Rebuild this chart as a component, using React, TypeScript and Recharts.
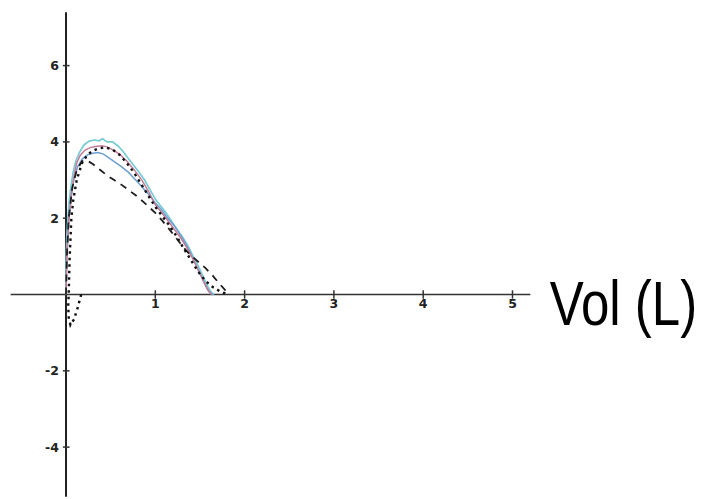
import React from "react";
import { LineChart, Line, XAxis, YAxis, ReferenceLine, ReferenceDot } from "recharts";

type P = { v: number; f: number };
const mk = (a: number[][]): P[] => a.map(([v, f]) => ({ v, f }));

const xTicks = [1, 2, 3, 4, 5];
const yTicks = [6, 4, 2, -2, -4];
const axisLabel = "Vol (L)";

const cyanCurve = mk([
  [0.0, 0.0], [0.0, 0.8], [0.01, 1.6], [0.03, 2.3], [0.05, 2.75], [0.08, 3.2], [0.11, 3.5],
  [0.15, 3.72], [0.2, 3.92], [0.26, 4.02], [0.32, 4.05], [0.37, 4.03], [0.41, 4.08], [0.46, 4.0],
  [0.52, 4.0], [0.58, 3.9], [0.64, 3.75], [0.7, 3.56], [0.76, 3.38], [0.82, 3.2], [0.88, 3.0],
  [0.94, 2.75], [1.0, 2.5], [1.06, 2.32], [1.12, 2.14], [1.18, 1.93], [1.24, 1.72], [1.3, 1.52],
  [1.36, 1.3], [1.42, 1.02], [1.48, 0.75], [1.54, 0.45], [1.59, 0.2], [1.63, 0.05], [1.66, 0.0],
]);

const blueCurve = mk([
  [0.0, 0.0], [0.01, 1.0], [0.03, 1.9], [0.06, 2.6], [0.09, 3.05], [0.13, 3.35], [0.18, 3.55],
  [0.24, 3.66], [0.3, 3.7], [0.36, 3.72], [0.42, 3.68], [0.5, 3.55], [0.56, 3.45], [0.62, 3.35],
  [0.7, 3.2], [0.78, 3.0], [0.86, 2.8], [0.94, 2.58], [1.0, 2.4], [1.06, 2.25], [1.14, 2.0],
  [1.22, 1.78], [1.3, 1.5], [1.38, 1.15], [1.45, 0.8], [1.52, 0.45], [1.58, 0.15], [1.62, 0.03],
  [1.65, 0.0],
]);

const pinkCurve = mk([
  [0.0, 0.0], [0.01, 1.0], [0.03, 1.9], [0.06, 2.6], [0.09, 3.1], [0.12, 3.45], [0.16, 3.65],
  [0.21, 3.78], [0.27, 3.85], [0.33, 3.88], [0.4, 3.9], [0.46, 3.87], [0.52, 3.8], [0.6, 3.68],
  [0.68, 3.5], [0.76, 3.28], [0.85, 3.0], [0.93, 2.68], [1.0, 2.35], [1.06, 2.18], [1.12, 2.0],
  [1.2, 1.75], [1.28, 1.5], [1.36, 1.2], [1.44, 0.85], [1.5, 0.55], [1.56, 0.25], [1.6, 0.08],
  [1.63, 0.0],
]);

const dashedCurve = mk([
  [0.0, 0.0], [0.01, 1.0], [0.03, 2.0], [0.07, 2.8], [0.12, 3.25], [0.18, 3.5], [0.23, 3.52],
  [0.3, 3.42], [0.38, 3.27], [0.46, 3.12], [0.54, 3.0], [0.62, 2.88], [0.7, 2.74], [0.78, 2.6],
  [0.86, 2.44], [0.94, 2.27], [1.0, 2.14], [1.08, 1.93], [1.16, 1.7], [1.24, 1.46], [1.32, 1.22],
  [1.4, 1.02], [1.48, 0.86], [1.56, 0.7], [1.64, 0.5], [1.72, 0.28], [1.78, 0.12], [1.82, 0.02],
]);

const dottedCurve = mk([
  [0.17, 0.0], [0.13, -0.35], [0.09, -0.65], [0.05, -0.8], [0.03, -0.6], [0.025, -0.3], [0.03, 0.0],
  [0.04, 0.9], [0.06, 2.0], [0.08, 2.45], [0.12, 3.0], [0.18, 3.45], [0.24, 3.66], [0.3, 3.77],
  [0.37, 3.83], [0.44, 3.86], [0.52, 3.8], [0.6, 3.66], [0.68, 3.45], [0.76, 3.2], [0.84, 2.9],
  [0.92, 2.6], [1.0, 2.3], [1.08, 2.05], [1.16, 1.8], [1.24, 1.52], [1.32, 1.2], [1.4, 0.9],
  [1.48, 0.6], [1.56, 0.36], [1.64, 0.2], [1.72, 0.09], [1.78, 0.03], [1.8, 0.0],
]);

const VolLabel = (props: any) => {
  const vb = props.viewBox || { x: 0, y: 0 };
  return (
    <g transform={`translate(${vb.x + 10.5},${vb.y + 30.5}) scale(1,1.22)`}>
      <text
        x={0}
        y={0}
        fontFamily="'Liberation Sans', Arial, sans-serif"
        fontSize={51}
        fill="#000"
      >
        {axisLabel}
      </text>
    </g>
  );
};

const tickFont = { fontSize: 12.5, fontWeight: 700, fill: "#222", fontFamily: "'DejaVu Sans', sans-serif" };

export default function App() {
  return (
    <div style={{ position: "absolute", left: 0, top: 0, width: 707, height: 499, background: "#fff" }}>
      <LineChart
        width={707}
        height={499}
        margin={{ top: 4.56, right: 167.71, bottom: 2.3, left: 3.49 }}
      >
        <XAxis type="number" dataKey="v" domain={[-0.7, 5.3]} allowDataOverflow hide />
        <YAxis type="number" dataKey="f" domain={[-5.3, 7.6]} allowDataOverflow hide />

        <ReferenceLine segment={[{ x: -0.62, y: 0 }, { x: 5.2, y: 0 }]} stroke="#333" strokeWidth={1.6} ifOverflow="visible" />
        <ReferenceLine segment={[{ x: 0, y: 7.4 }, { x: 0, y: -5.3 }]} stroke="#222" strokeWidth={2} ifOverflow="visible" />

        {xTicks.map((t) => (
          <ReferenceLine key={"xt" + t} segment={[{ x: t, y: -0.11 }, { x: t, y: 0.11 }]} stroke="#333" strokeWidth={1.5} ifOverflow="visible" />
        ))}
        {yTicks.map((t) => (
          <ReferenceLine key={"yt" + t} segment={[{ x: -0.035, y: t }, { x: 0.04, y: t }]} stroke="#333" strokeWidth={1.5} ifOverflow="visible" />
        ))}
        {xTicks.map((t) => (
          <ReferenceDot key={"xl" + t} x={t} y={0} r={0} fill="none" stroke="none" ifOverflow="visible"
            label={{ value: String(t), position: "bottom", offset: 5, ...tickFont }} />
        ))}
        {yTicks.map((t) => (
          <ReferenceDot key={"yl" + t} x={0} y={t} r={0} fill="none" stroke="none" ifOverflow="visible"
            label={{ value: String(t), position: "left", offset: 7, ...tickFont }} />
        ))}

        <Line data={cyanCurve} dataKey="f" type="linear" stroke="#76cbd6" strokeWidth={1.7} dot={false} activeDot={false} isAnimationActive={false} />
        <Line data={blueCurve} dataKey="f" type="linear" stroke="#6d9fd0" strokeWidth={1.5} dot={false} activeDot={false} isAnimationActive={false} />
        <Line data={pinkCurve} dataKey="f" type="linear" stroke="#c27a95" strokeWidth={1.5} dot={false} activeDot={false} isAnimationActive={false} />
        <Line data={dashedCurve} dataKey="f" type="linear" stroke="#1e1e1e" strokeWidth={1.8} strokeDasharray="7 6" dot={false} activeDot={false} isAnimationActive={false} />
        <Line data={dottedCurve} dataKey="f" type="linear" stroke="#111" strokeWidth={2.4} strokeDasharray="2.5 4" dot={false} activeDot={false} isAnimationActive={false} />

        <ReferenceDot x={5.3} y={0} r={0} fill="none" stroke="none" ifOverflow="visible" label={<VolLabel />} />
      </LineChart>
    </div>
  );
}
